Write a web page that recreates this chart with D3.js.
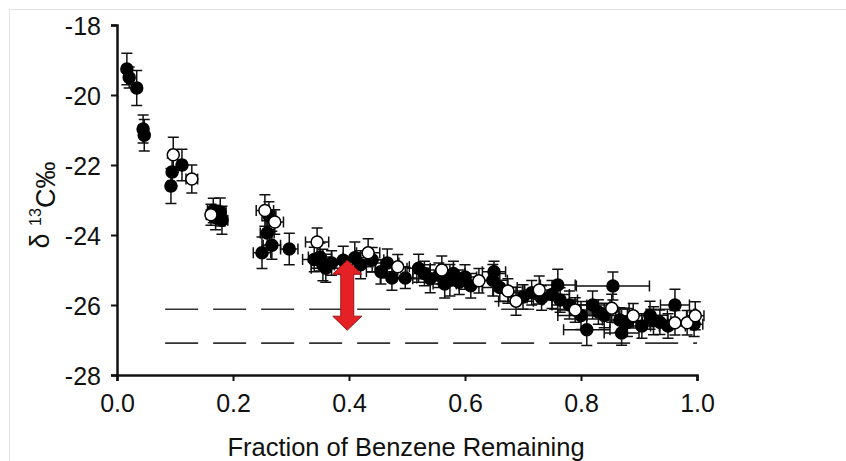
<!DOCTYPE html>
<html lang="en">
<head>
  <meta charset="UTF-8">
  <title>Benzene carbon isotope fractionation</title>
  <script src="https://d3js.org/d3.v7.min.js"></script>
  <style>
    body { margin: 0; background: #fff; }
    .tick text { font-family: "Liberation Sans", Arial, sans-serif; font-size: 25px; fill: #111; }
    .axis-label { font-family: "Liberation Sans", Arial, sans-serif; fill: #111; }
  </style>
</head>
<body>
<svg width="846" height="461"></svg>
<script>
  // Fraction remaining, delta 13C, x error, y error, open marker flag
  const fraction = [0.017, 0.021, 0.034, 0.045, 0.047, 0.097, 0.112, 0.095, 0.093, 0.129,
    0.166, 0.178, 0.170, 0.181, 0.162, 0.255, 0.272, 0.262, 0.259, 0.267,
    0.250, 0.297, 0.345, 0.350, 0.355, 0.340, 0.370, 0.390, 0.410, 0.433,
    0.440, 0.466, 0.484, 0.474, 0.497, 0.560, 0.555, 0.574, 0.565, 0.580,
    0.624, 0.648, 0.650, 0.674, 0.688, 0.700, 0.728, 0.732, 0.760, 0.764,
    0.855, 0.790, 0.810, 0.853, 0.867, 0.890, 0.919, 0.962, 0.962, 0.983,
    0.997, 0.995, 0.936, 0.820, 0.840, 0.880, 0.905, 0.780, 0.610, 0.530,
    0.520, 0.600, 0.750, 0.950, 0.870, 0.360, 0.420, 0.455, 0.540, 0.590,
    0.660, 0.715, 0.800, 0.830, 0.925];
  const delta13C = [-19.26, -19.50, -19.80, -20.97, -21.15, -21.71, -22.00, -22.20, -22.60, -22.40,
    -23.30, -23.34, -23.50, -23.58, -23.42, -23.30, -23.63, -23.45, -23.94, -24.29,
    -24.51, -24.40, -24.20, -24.63, -24.86, -24.70, -24.80, -24.72, -24.65, -24.51,
    -24.71, -24.80, -24.91, -25.23, -25.23, -25.00, -25.15, -25.29, -25.40, -25.10,
    -25.31, -25.29, -25.05, -25.60, -25.89, -25.77, -25.57, -25.80, -25.43, -25.86,
    -25.46, -26.14, -26.71, -26.09, -26.43, -26.31, -26.29, -26.51, -26.00, -26.51,
    -26.31, -26.55, -26.49, -26.00, -26.30, -26.50, -26.60, -26.00, -25.45, -25.10,
    -24.95, -25.20, -25.70, -26.60, -26.80, -24.95, -24.85, -25.05, -25.25, -25.35,
    -25.50, -25.65, -26.30, -26.20, -26.45];
  const fractionErr = [0.004, 0.004, 0.005, 0.004, 0.004, 0.006, 0.006, 0.006, 0.006, 0.010,
    0.010, 0.010, 0.010, 0.010, 0.008, 0.015, 0.015, 0.012, 0.012, 0.015,
    0.015, 0.015, 0.020, 0.020, 0.020, 0.020, 0.020, 0.020, 0.020, 0.020,
    0.020, 0.020, 0.020, 0.020, 0.020, 0.020, 0.020, 0.020, 0.020, 0.020,
    0.020, 0.025, 0.020, 0.025, 0.030, 0.025, 0.025, 0.025, 0.030, 0.030,
    0.063, 0.030, 0.040, 0.030, 0.030, 0.030, 0.030, 0.030, 0.025, 0.020,
    0.015, 0.015, 0.030, 0.030, 0.030, 0.030, 0.030, 0.030, 0.020, 0.020,
    0.020, 0.020, 0.030, 0.030, 0.030, 0.025, 0.025, 0.025, 0.030, 0.030,
    0.030, 0.035, 0.040, 0.035, 0.030];
  const deltaErr = [0.45, 0.30, 0.50, 0.40, 0.45, 0.50, 0.45, 0.40, 0.50, 0.40,
    0.35, 0.40, 0.35, 0.40, 0.30, 0.45, 0.35, 0.40, 0.35, 0.40,
    0.45, 0.45, 0.40, 0.40, 0.45, 0.35, 0.35, 0.40, 0.45, 0.40,
    0.35, 0.40, 0.35, 0.35, 0.30, 0.40, 0.35, 0.45, 0.40, 0.35,
    0.35, 0.45, 0.30, 0.35, 0.40, 0.35, 0.40, 0.35, 0.45, 0.35,
    0.40, 0.35, 0.45, 0.40, 0.35, 0.35, 0.40, 0.35, 0.45, 0.35,
    0.40, 0.35, 0.35, 0.40, 0.35, 0.40, 0.35, 0.40, 0.35, 0.35,
    0.40, 0.35, 0.40, 0.35, 0.35, 0.40, 0.40, 0.35, 0.40, 0.35,
    0.40, 0.35, 0.40, 0.35, 0.40];
  const openMarker = [0, 0, 0, 0, 0, 1, 0, 0, 0, 1,
    0, 0, 0, 0, 1, 1, 1, 0, 0, 0,
    0, 0, 1, 0, 0, 0, 0, 0, 0, 1,
    0, 0, 1, 0, 0, 1, 0, 0, 0, 0,
    1, 0, 0, 1, 1, 0, 1, 0, 0, 0,
    0, 1, 0, 1, 0, 1, 0, 1, 0, 1,
    1, 0, 0, 0, 0, 0, 0, 0, 0, 0,
    0, 0, 0, 0, 0, 0, 0, 0, 0, 0,
    0, 0, 0, 0, 0];

  // Reference levels (dashed) and the shift arrow
  const refLevels = [-26.12, -27.09];
  const refStart = 0.083, refEnd = 1.0;
  const arrowX = 0.397, arrowTop = -24.72, arrowBottom = -26.72;

  const xTicks = [0, 0.2, 0.4, 0.6, 0.8, 1.0];
  const yTicks = [-28, -26, -24, -22, -20, -18];

  const points = fraction.map((f, i) => ({
    f: f, d: delta13C[i], ef: fractionErr[i], ed: deltaErr[i], open: openMarker[i] === 1
  }));

  const svg = d3.select("svg");

  // light frame around the figure (left and top edges show)
  svg.append("rect")
      .attr("x", 9.5).attr("y", 9.5)
      .attr("width", 900).attr("height", 500)
      .attr("fill", "none")
      .attr("stroke", "#e2e2e2");

  const x = d3.scaleLinear().domain([0, 1]).range([117, 697]);
  const y = d3.scaleLinear().domain([-28, -18]).range([375, 25]);

  // dashed reference lines
  svg.selectAll(".ref")
      .data(refLevels)
      .enter().append("line")
      .attr("class", "ref")
      .attr("x1", x(refStart)).attr("x2", x(refEnd))
      .attr("y1", d => y(d)).attr("y2", d => y(d))
      .attr("stroke", "#333")
      .attr("stroke-width", 1.6)
      .attr("stroke-dasharray", "33,15");

  // error bars
  const bars = svg.append("g")
      .attr("stroke", "#111")
      .attr("stroke-width", 1.5)
      .attr("fill", "none");
  const capW = 5.5;
  points.forEach(p => {
    const cx = x(p.f), cy = y(p.d);
    const y0 = y(p.d - p.ed), y1 = y(p.d + p.ed);
    const x0 = x(p.f - p.ef), x1 = x(p.f + p.ef);
    bars.append("path")
        .attr("d", `M${cx},${y0}V${y1}M${cx - capW},${y0}H${cx + capW}M${cx - capW},${y1}H${cx + capW}` +
                   `M${x0},${cy}H${x1}M${x0},${cy - capW}V${cy + capW}M${x1},${cy - capW}V${cy + capW}`);
  });

  // markers: filled first, open on top
  svg.append("g").selectAll("circle")
      .data(points.slice().sort((a, b) => a.open - b.open))
      .enter().append("circle")
      .attr("cx", d => x(d.f))
      .attr("cy", d => y(d.d))
      .attr("r", 6)
      .attr("fill", d => d.open ? "#fff" : "#000")
      .attr("stroke", "#000")
      .attr("stroke-width", 1.5);

  // axes (plain hyphen for negative labels)
  const yAxis = svg.append("g")
      .attr("transform", "translate(117,0)")
      .call(d3.axisLeft(y).tickValues(yTicks).tickSize(6).tickPadding(10).tickFormat(d => String(d)));
  const xAxis = svg.append("g")
      .attr("transform", "translate(0,375)")
      .call(d3.axisBottom(x).tickValues(xTicks).tickSize(6).tickPadding(12).tickFormat(d => d.toFixed(1)));
  [yAxis, xAxis].forEach(g => {
    g.select(".domain").attr("stroke", "#111").attr("stroke-width", 2.5);
    g.selectAll(".tick line").attr("stroke", "#111").attr("stroke-width", 2);
  });
  yAxis.selectAll(".tick text").attr("dy", "0.36em");
  xAxis.selectAll(".tick text").attr("dy", "0.75em");

  // double-headed arrow
  const ax = x(arrowX), at = y(arrowTop), ab = y(arrowBottom);
  const head = 14, hw = 14.5, sw = 6.5;
  svg.append("path")
      .attr("d", `M${ax},${at}L${ax + hw},${at + head}L${ax + sw},${at + head}L${ax + sw},${ab - head}` +
                 `L${ax + hw},${ab - head}L${ax},${ab}L${ax - hw},${ab - head}L${ax - sw},${ab - head}` +
                 `L${ax - sw},${at + head}L${ax - hw},${at + head}Z`)
      .attr("fill", "#e52125")
      .attr("stroke", "#9b1518")
      .attr("stroke-width", 1);

  // axis titles
  svg.append("text")
      .attr("class", "axis-label")
      .attr("x", 406).attr("y", 456)
      .attr("text-anchor", "middle")
      .style("font-size", "25.5px")
      .text("Fraction of Benzene Remaining");

  const yl = svg.append("text")
      .attr("class", "axis-label")
      .attr("transform", "translate(49,205) rotate(-90)")
      .attr("text-anchor", "middle")
      .style("font-size", "27px");
  yl.append("tspan").text("δ ");
  yl.append("tspan").attr("dy", "-0.5em").style("font-size", "16px").text("13");
  yl.append("tspan").attr("dy", "0.5em").text("C‰");
</script>
</body>
</html>
